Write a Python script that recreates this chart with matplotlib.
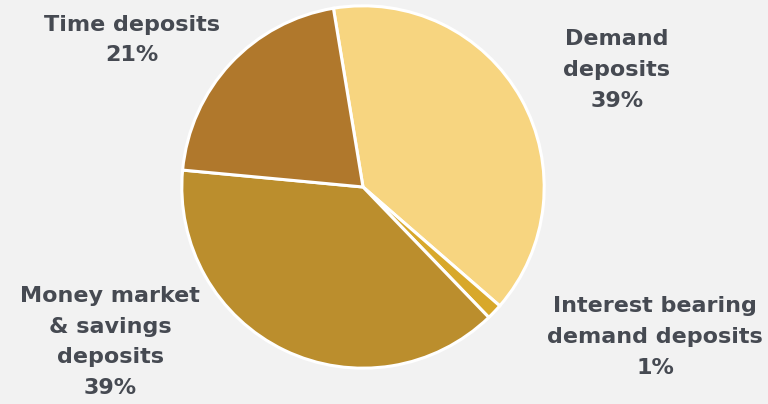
import matplotlib.pyplot as plt

plt.rcParams['font.family'] = ['DejaVu Sans']

# deposit mix (share of total, %)
categories = ['Demand\ndeposits', 'Interest bearing\ndemand deposits',
              'Money market\n& savings\ndeposits', 'Time deposits']
shares = [39.0, 1.4, 38.7, 20.9]
colors = ['#F7D580', '#D8A82A', '#BB8E2D', '#B0782C']

# label anchor points in pixels (x, y from top)
label_pos = [(617, 70), (655, 337), (110, 342), (132, 40)]

W, H = 768, 404
fig = plt.figure(figsize=(W / 100, H / 100), dpi=100)
fig.patch.set_facecolor('#F2F2F2')

cx, cy, r = 363, 187, 183
ax = fig.add_axes([(cx - r) / W, (H - cy - r) / H, 2 * r / W, 2 * r / H])
ax.pie(shares, colors=colors, startangle=99.4, counterclock=False,
       wedgeprops=dict(edgecolor='white', linewidth=2.2))
ax.set_xlim(-1.01, 1.01)
ax.set_ylim(-1.01, 1.01)
ax.set_aspect('equal')
ax.axis('off')

for name, v, (x, y) in zip(categories, shares, label_pos):
    fig.text(x / W, 1 - y / H, f'{name}\n{v:.0f}%', ha='center', va='center',
             fontsize=16, fontweight='bold', color='#464A52', linespacing=1.68)

fig.savefig('out.png', dpi=100, facecolor=fig.get_facecolor())
